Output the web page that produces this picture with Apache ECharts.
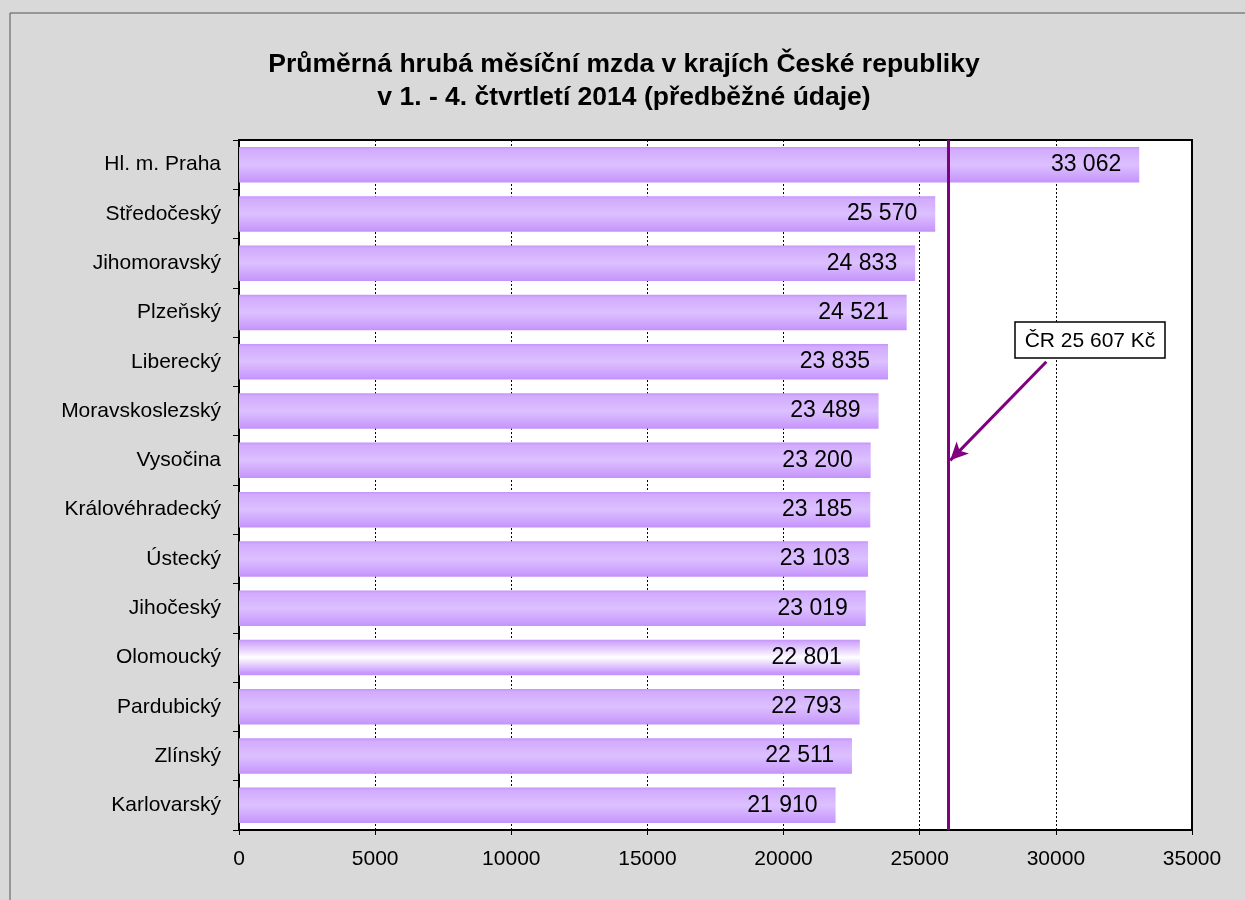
<!DOCTYPE html>
<html><head><meta charset="utf-8">
<script src="https://cdn.jsdelivr.net/npm/echarts@6/dist/echarts.min.js"></script>
<style>html,body{margin:0;padding:0;background:#fff}#c{width:1245px;height:900px}</style>
</head><body><div id="c"></div>
<script>
const categories = ['Hl. m. Praha','Středočeský','Jihomoravský','Plzeňský','Liberecký','Moravskoslezský','Vysočina','Královéhradecký','Ústecký','Jihočeský','Olomoucký','Pardubický','Zlínský','Karlovarský'];
const values = [33062,25570,24833,24521,23835,23489,23200,23185,23103,23019,22801,22793,22511,21910];
const highlighted = 'Olomoucký';
const avgLineValue = 26050;
const avgLabel = 'ČR 25 607 Kč';
const xTicks = [0,5000,10000,15000,20000,25000,30000,35000];
const arrowFrom = [29650, 4.05];
const arrowTo = [26120, 5.65];

function grad(mid){
  return new echarts.graphic.LinearGradient(0,0,0,1,[
    {offset:0,color:'#c594fb'},{offset:0.08,color:'#d2abfd'},{offset:0.5,color:mid},{offset:0.92,color:'#c99bfc'},{offset:1,color:'#c391fa'}]);
}
const chart = echarts.init(document.getElementById('c'));
const fmt = v => String(v).replace(/\B(?=(\d{3})+(?!\d))/g,' ');
chart.setOption({
  backgroundColor:'#d9d9d9',
  animation:false,
  title:{text:'Průměrná hrubá měsíční mzda v krajích České republiky\nv 1. - 4. čtvrtletí 2014 (předběžné údaje)',left:619,textAlign:'center',top:43,
    textStyle:{fontFamily:'Liberation Sans',fontSize:26.5,fontWeight:'bold',color:'#000',lineHeight:33}},
  grid:{left:239,right:53,top:140,bottom:70,show:true,backgroundColor:'#fff',borderColor:'#000',borderWidth:2},
  xAxis:{type:'value',min:0,max:35000,interval:5000,
    axisLine:{show:true,lineStyle:{color:'#000',width:2}},
    axisTick:{show:true,length:5,lineStyle:{color:'#000'}},
    axisLabel:{color:'#000',fontFamily:'Liberation Sans',fontSize:21,margin:19,formatter:v=>xTicks.includes(v)?String(v):''},
    splitLine:{show:true,lineStyle:{color:'#000',type:[2,2],width:1}}},
  yAxis:{type:'category',data:categories,inverse:true,
    axisLine:{show:true,lineStyle:{color:'#000',width:2}},
    axisTick:{show:true,length:6,lineStyle:{color:'#000'}},
    axisLabel:{color:'#000',fontFamily:'Liberation Sans',fontSize:21,margin:18}},
  series:[{type:'bar',barCategoryGap:'28%',
    data:values.map((v,i)=>({value:v,itemStyle:{color:grad(categories[i]===highlighted?'#ffffff':'#dcc0ff')}})),
    label:{show:true,position:'insideRight',distance:18,formatter:p=>fmt(p.value),color:'#000',fontFamily:'Liberation Sans',fontSize:23},
    markLine:{silent:true,animation:false,symbol:['none','none'],label:{show:false},
      data:[
        {xAxis:avgLineValue,lineStyle:{color:'#800080',width:3,type:'solid'}},
        [{coord:arrowFrom,symbol:'none'},{coord:arrowTo,symbol:'arrow',symbolSize:[13,18]}]
      ],
      lineStyle:{color:'#800080',width:3,type:'solid'}}
  }],
  graphic:[
    {type:'rect',shape:{x:10,y:13,width:1250,height:900},style:{fill:'none',stroke:'#555',lineWidth:1},z:100,silent:true},
    {type:'rect',shape:{x:1015,y:322,width:150,height:36},style:{fill:'#fff',stroke:'#000',lineWidth:1.5},z:101},
    {type:'text',x:1090,y:341,style:{text:avgLabel,fontFamily:'Liberation Sans',fontSize:21,fill:'#000',align:'center',verticalAlign:'middle'},z:102}
  ]
});
</script></body></html>
